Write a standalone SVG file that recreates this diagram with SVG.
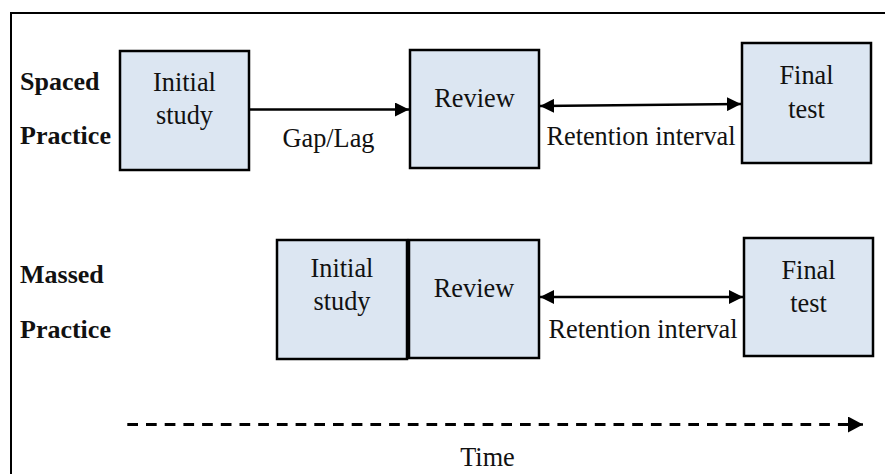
<svg xmlns="http://www.w3.org/2000/svg" width="885" height="474" viewBox="0 0 885 474">
  <style>
    .box { fill: #dce6f2; stroke: #000; stroke-width: 2.5; }
    .txt { font-family: "Liberation Serif", "Times New Roman", serif; font-size: 26.3px; fill: #111; text-anchor: middle; }
    .lbl { font-family: "Liberation Serif", "Times New Roman", serif; font-size: 26px; font-weight: bold; fill: #111; }
    .line { stroke: #000; stroke-width: 2.5; fill: none; }
    .dash { stroke: #000; stroke-width: 3; fill: none; stroke-dasharray: 10.7 8; }
  </style>
  <defs>
    <marker id="head" viewBox="0 0 14 14" refX="14" refY="7" markerWidth="14" markerHeight="14" markerUnits="userSpaceOnUse" orient="auto-start-reverse">
      <path d="M0,0 L14,7 L0,14 Z" fill="#000"/>
    </marker>
    <marker id="headBig" viewBox="0 0 15 16" refX="15" refY="8" markerWidth="15" markerHeight="16" markerUnits="userSpaceOnUse" orient="auto">
      <path d="M0,0 L15,8 L0,16 Z" fill="#000"/>
    </marker>
  </defs>

  <rect width="885" height="474" fill="#fff"/>
  <!-- outer frame (right and bottom edges run off the canvas) -->
  <rect x="11" y="13" width="890" height="480" fill="none" stroke="#000" stroke-width="2"/>

  <!-- row labels -->
  <g id="label-spaced">
    <text class="lbl" x="20" y="90">Spaced</text>
    <text class="lbl" x="20" y="144">Practice</text>
  </g>
  <g id="label-massed">
    <text class="lbl" x="20" y="283">Massed</text>
    <text class="lbl" x="20" y="338">Practice</text>
  </g>

  <!-- spaced practice row -->
  <g id="spaced-initial">
    <rect class="box" x="120" y="51" width="129" height="119"/>
    <text class="txt" x="184.5" y="91">Initial</text>
    <text class="txt" x="184.5" y="124">study</text>
  </g>
  <g id="spaced-review">
    <rect class="box" x="410" y="50" width="129" height="118"/>
    <text class="txt" x="474.5" y="107">Review</text>
  </g>
  <g id="spaced-final">
    <rect class="box" x="742" y="43" width="129" height="120"/>
    <text class="txt" x="806.5" y="84">Final</text>
    <text class="txt" x="806.5" y="118">test</text>
  </g>

  <!-- massed practice row -->
  <g id="massed-initial">
    <rect class="box" x="277" y="240" width="130" height="119"/>
    <text class="txt" x="342" y="277">Initial</text>
    <text class="txt" x="342" y="310">study</text>
  </g>
  <g id="massed-review">
    <rect class="box" x="409" y="240" width="130" height="118"/>
    <text class="txt" x="474" y="297">Review</text>
  </g>
  <g id="massed-final">
    <rect class="box" x="744" y="238" width="129" height="118"/>
    <text class="txt" x="808.5" y="279">Final</text>
    <text class="txt" x="808.5" y="312">test</text>
  </g>

  <!-- connectors -->
  <g id="connectors">
    <line class="line" x1="249" y1="109.5" x2="409" y2="109.5" marker-end="url(#head)"/>
    <line class="line" x1="540" y1="106" x2="741" y2="104" marker-start="url(#head)" marker-end="url(#head)"/>
    <line class="line" x1="540" y1="297" x2="743" y2="297" marker-start="url(#head)" marker-end="url(#head)"/>
    <line class="dash" x1="127.3" y1="424.5" x2="850" y2="424.5"/>
    <line class="line" x1="838" y1="424.5" x2="863" y2="424.5" marker-end="url(#headBig)" stroke-width="3"/>
  </g>

  <!-- connector labels -->
  <g id="connector-labels">
    <text class="txt" x="328.5" y="147">Gap/Lag</text>
    <text class="txt" x="641" y="145">Retention interval</text>
    <text class="txt" x="643" y="338">Retention interval</text>
    <text class="txt" x="487.5" y="466">Time</text>
  </g>
</svg>
